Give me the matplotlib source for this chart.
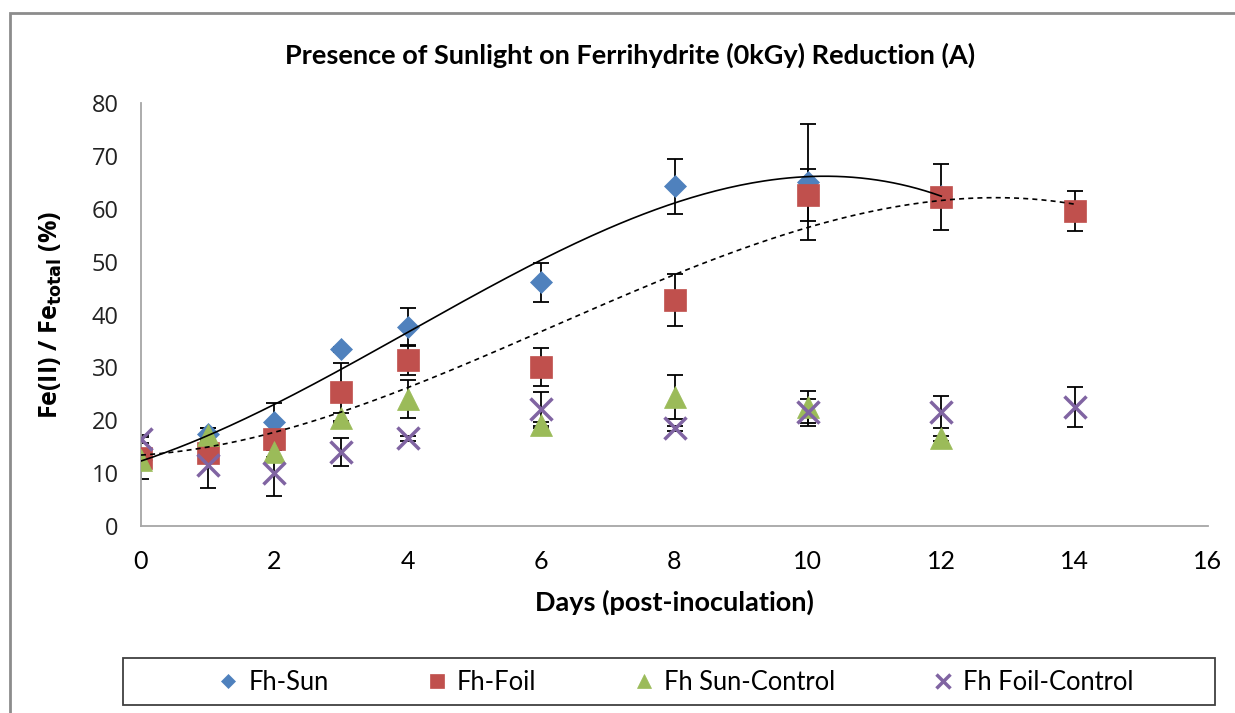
import numpy as np
import matplotlib
matplotlib.use("Agg")
import matplotlib.pyplot as plt
from matplotlib.patches import Rectangle

# sampling days and Fe(II)/Fe_total readings (%) with their error bars
days = [0, 1, 2, 3, 4, 6, 8, 10, 12, 14]

sun = [12.5, 17.4, 19.7, 33.4, 37.6, 46.1, 64.3, 65.0, 62.5]
sun_err = [1.0, 1.2, 3.5, 0.5, 3.6, 3.7, 5.2, 11.0, 1.0]

foil = [12.8, 13.8, 16.5, 25.4, 31.4, 30.1, 42.7, 62.6, 62.2, 59.5]
foil_err = [4.0, 1.0, 1.0, 5.5, 2.8, 3.6, 4.9, 5.0, 6.2, 3.8]

sun_ctrl = [12.5, 17.2, 14.0, 20.4, 24.0, 19.1, 24.4, 22.5, 16.6]
sun_ctrl_err = [1.0, 1.3, 1.0, 1.0, 3.6, 0.5, 4.1, 3.0, 0.5]

foil_ctrl = [16.5, 11.5, 10.0, 14.0, 16.6, 22.1, 18.5, 21.5, 21.6, 22.5]
foil_ctrl_err = [0.8, 4.4, 4.3, 2.6, 0.5, 3.2, 0.5, 2.5, 3.0, 3.7]

labels = ["Fh-Sun", "Fh-Foil", "Fh Sun-Control", "Fh Foil-Control"]
colors = ["#4F81BD", "#C0504D", "#9BBB59", "#8064A2"]

font = ["Lato", "DejaVu Sans"]
wide = ["Open Sans", "DejaVu Sans"]
fig = plt.figure(figsize=(12.35, 7.13), dpi=100)
ax = fig.add_axes([141 / 1235, 1 - 526 / 713, 1067 / 1235, 423 / 713])

series = [
    (sun, sun_err, "D", 11, 0),
    (foil, foil_err, "s", 15.5, 0),
    (sun_ctrl, sun_ctrl_err, "^", 16, 0),
    (foil_ctrl, foil_ctrl_err, "x", 15.5, 2.5),
]
handles = []
for (vals, errs, mk, ms, mew), lab, col in zip(series, labels, colors):
    x = days[:len(vals)]
    ax.errorbar(x, vals, yerr=errs, fmt="none", ecolor="black", elinewidth=1.3,
                capsize=6, capthick=1.3, zorder=2)
    kw = dict(markeredgewidth=mew, color=col) if mk == "x" else dict(
        markerfacecolor=col, markeredgecolor=col, markeredgewidth=0.5)
    h, = ax.plot(x, vals, linestyle="none", marker=mk, markersize=ms, label=lab,
                 zorder=3, **kw)
    handles.append(h)

# third order polynomial trend lines
xs = np.linspace(0, 12, 200)
ax.plot(xs, np.polyval(np.polyfit(days[:len(sun)], sun, 3), xs),
        color="black", lw=1.2, zorder=4)
xs = np.linspace(0, 14, 200)
ax.plot(xs, np.polyval(np.polyfit(days, foil, 3), xs),
        color="black", lw=1.2, ls=(0, (3, 2.5)), zorder=4)

ax.set_xlim(0, 16)
ax.set_ylim(0, 80)
ax.set_xticks(range(0, 17, 2))
ax.set_yticks(range(0, 81, 10))
for s in ["top", "right"]:
    ax.spines[s].set_visible(False)
for s in ["left", "bottom"]:
    ax.spines[s].set_color("#A6A6A6")
    ax.spines[s].set_linewidth(1.3)
ax.tick_params(axis="x", length=0, pad=17, labelsize=18)
ax.tick_params(axis="y", length=0, pad=16, labelsize=17)
for t in ax.get_xticklabels():
    t.set_fontfamily(font)
for t in ax.get_yticklabels():
    t.set_fontfamily(wide)
    t.set_color("#222222")

ax.set_xlabel("Days (post-inoculation)", fontsize=19.5, fontweight="bold",
              family=font, labelpad=12)
ax.set_ylabel(r"Fe(II) / Fe$_{\mathbf{total}}$ (%)", fontsize=18,
              fontweight="bold", family=wide, labelpad=20)
fig.text(630 / 1235, 1 - 55 / 713, "Presence of Sunlight on Ferrihydrite (0kGy) Reduction (A)",
         ha="center", va="center", fontsize=19.5, fontweight="bold", family=font)

# chart frame
fig.patches.append(Rectangle((10 / 1235, -0.1), 1.2, 1 - 13 / 713 + 0.1,
                             transform=fig.transFigure, fill=False,
                             edgecolor="#8C8C8C", lw=2))
# legend box
fig.patches.append(Rectangle((123 / 1235, 1 - 705 / 713), 1092 / 1235, 47 / 713,
                             transform=fig.transFigure, fill=False,
                             edgecolor="#404040", lw=1.3))

leg = fig.legend(handles=handles, loc="center", bbox_to_anchor=(676 / 1235, 1 - 682 / 713),
                 ncol=4, frameon=False, prop={"family": font, "size": 18.4},
                 markerscale=0.65, handlelength=0.8, handletextpad=0.4,
                 columnspacing=3.8)

fig.savefig("out.png", dpi=100)
